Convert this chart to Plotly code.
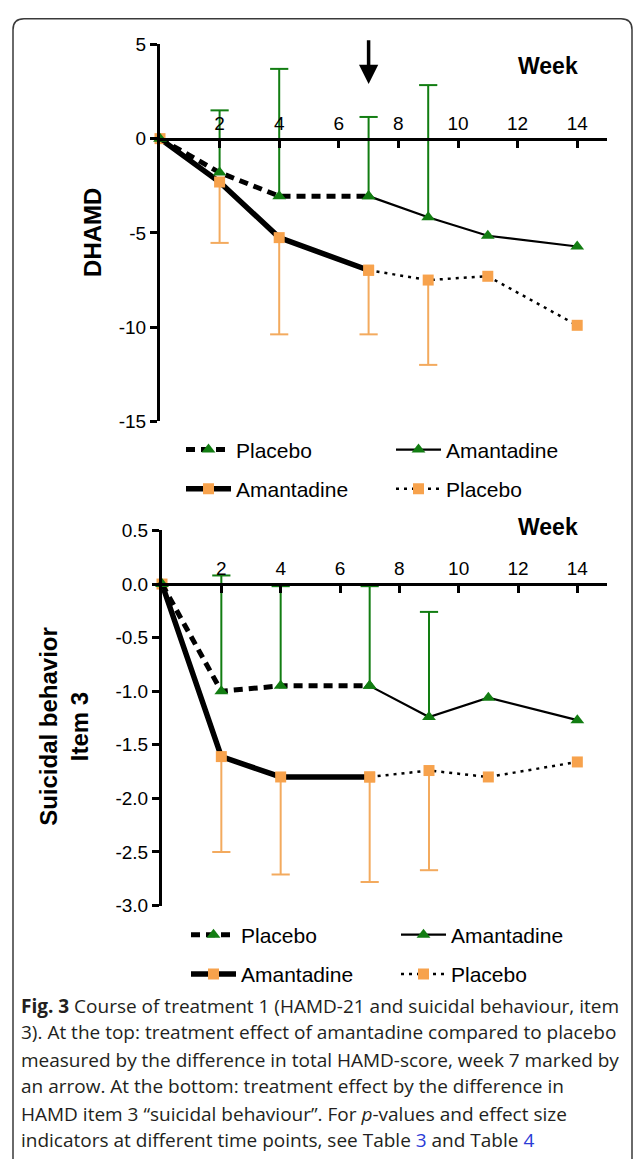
import plotly.graph_objects as go

W, H = 634, 1166

# ---------------- data ----------------
weeks = [0, 2, 4, 7, 9, 11, 14]
marked_week = 7          # week marked by the arrow in the top panel
split_week = 7           # crossover point (line style changes here)

# Top panel: DHAMD
top_green = [0, -1.8, -3.05, -3.05, -4.17, -5.15, -5.72]
top_green_upper = [None, 1.5, 3.7, 1.15, 2.84, None, None]
top_orange = [0, -2.3, -5.25, -6.98, -7.5, -7.3, -9.9]
top_orange_lower = [None, -5.53, -10.38, -10.38, -12.0, None, None]

# Bottom panel: Suicidal behavior item 3
bot_green = [0, -1.0, -0.95, -0.95, -1.24, -1.06, -1.27]
bot_green_upper = [None, 0.08, -0.02, -0.02, -0.26, None, None]
bot_orange = [0, -1.61, -1.8, -1.8, -1.74, -1.8, -1.66]
bot_orange_lower = [None, -2.5, -2.71, -2.78, -2.67, None, None]

x_tickvals = [2, 4, 6, 8, 10, 12, 14]
x_ticktext = ["2", "4", "6", "8", "10", "12", "14"]
top_y_tickvals = [5, 0, -5, -10, -15]
top_y_ticktext = ["5", "0", "-5", "-10", "-15"]
bot_y_tickvals = [0.5, 0.0, -0.5, -1.0, -1.5, -2.0, -2.5, -3.0]
bot_y_ticktext = ["0.5", "0.0", "-0.5", "-1.0", "-1.5", "-2.0", "-2.5", "-3.0"]

legend_names = ["Placebo", "Amantadine", "Amantadine", "Placebo"]

caption_lines = [
    "<b>Fig. 3</b> Course of treatment 1 (HAMD-21 and suicidal behaviour, item",
    "3). At the top: treatment effect of amantadine compared to placebo",
    "measured by the difference in total HAMD-score, week 7 marked by",
    "an arrow. At the bottom: treatment effect by the difference in",
    "HAMD item 3 \u201csuicidal behaviour\u201d. For <i>p</i>-values and effect size",
    "indicators at different time points, see Table <span style='color:#2b3bd6'>3</span> and Table <span style='color:#2b3bd6'>4</span>",
]

# ---------------- style ----------------
GREEN = "#127d12"
ORANGE = "#f7a24c"
ORANGE_ERR = "#f3aa5e"
FONT = "Liberation Sans, Arial, sans-serif"
CAP_FONT = "Open Sans, Noto Sans, sans-serif"


def px(x):
    return x / W


def py(y):
    return 1 - y / H


fig = go.Figure()


def seg(xs, ys, first):
    idx = [i for i, w in enumerate(xs) if (w <= split_week if first else w >= split_week)]
    return [xs[i] for i in idx], [ys[i] for i in idx]


def whiskers(xs, ys, ends, color, xa, ya):
    wx, wy, cx, cy = [], [], [], []
    for x, y, e in zip(xs, ys, ends):
        if e is None:
            continue
        wx += [x, x, None]
        wy += [y, e, None]
        cx.append(x)
        cy.append(e)
    fig.add_trace(go.Scatter(x=wx, y=wy, mode="lines", line=dict(color=color, width=2),
                             xaxis=xa, yaxis=ya, showlegend=False, hoverinfo="skip", cliponaxis=False))
    fig.add_trace(go.Scatter(x=cx, y=cy, mode="markers",
                             marker=dict(symbol="line-ew", size=13, line=dict(color=color, width=2)),
                             xaxis=xa, yaxis=ya, showlegend=False, hoverinfo="skip", cliponaxis=False))


def panel(green, gup, orange, olow, xa, ya, lg1, lg2):
    whiskers(weeks, green, gup, GREEN, xa, ya)
    whiskers(weeks, orange, olow, ORANGE_ERR, xa, ya)
    x1, y1 = seg(weeks, orange, True)
    x2, y2 = seg(weeks, orange, False)
    gx1, gy1 = seg(weeks, green, True)
    gx2, gy2 = seg(weeks, green, False)
    sq = dict(symbol="square", size=11, color=ORANGE)
    tri = dict(symbol="triangle-up", size=12, color=GREEN)
    fig.add_trace(go.Scatter(x=x2, y=y2, mode="lines+markers", name=legend_names[3],
                             line=dict(color="black", width=2.5, dash="3px,5px"), marker=sq,
                             xaxis=xa, yaxis=ya, legend=lg2, legendrank=2, cliponaxis=False))
    fig.add_trace(go.Scatter(x=gx2, y=gy2, mode="lines+markers", name=legend_names[1],
                             line=dict(color="black", width=2.2), marker=tri,
                             xaxis=xa, yaxis=ya, legend=lg1, legendrank=2, cliponaxis=False))
    fig.add_trace(go.Scatter(x=x1, y=y1, mode="lines+markers", name=legend_names[2],
                             line=dict(color="black", width=5.5), marker=sq,
                             xaxis=xa, yaxis=ya, legend=lg2, legendrank=1, cliponaxis=False))
    fig.add_trace(go.Scatter(x=gx1, y=gy1, mode="lines+markers", name=legend_names[0],
                             line=dict(color="black", width=5, dash="9px,6px"), marker=tri,
                             xaxis=xa, yaxis=ya, legend=lg1, legendrank=1, cliponaxis=False))


panel(top_green, top_green_upper, top_orange, top_orange_lower, "x", "y", "legend", "legend2")
panel(bot_green, bot_green_upper, bot_orange, bot_orange_lower, "x2", "y2", "legend3", "legend4")

axis_common = dict(showgrid=False, zeroline=False, showline=True, linecolor="black", linewidth=3,
                   tickcolor="black", tickwidth=3, ticklen=7,
                   tickfont=dict(family=FONT, size=19, color="black"))

fig.update_layout(
    width=W, height=H, margin=dict(l=0, r=0, t=0, b=0),
    paper_bgcolor="white", plot_bgcolor="rgba(0,0,0,0)",
    font=dict(family=FONT, color="black"),
    xaxis=dict(domain=[px(160), px(607)], range=[0, 15], anchor="free", position=py(131),
               side="top", ticks="inside", tickvals=x_tickvals, ticktext=x_ticktext, **axis_common),
    yaxis=dict(domain=[py(419), py(35)], range=[-15, 5], anchor="x", ticks="outside",
               tickvals=top_y_tickvals, ticktext=top_y_ticktext, **axis_common),
    xaxis2=dict(domain=[px(162), px(607)], range=[0, 15], anchor="free", position=py(584.6),
                side="top", ticks="inside", tickvals=x_tickvals, ticktext=x_ticktext, **axis_common),
    yaxis2=dict(domain=[py(912), py(530)], range=[-3, 0.5], anchor="x2", ticks="outside",
                tickvals=bot_y_tickvals, ticktext=bot_y_ticktext, **axis_common),
    showlegend=True,
)

leg_common = dict(orientation="h", xanchor="left", yanchor="middle", bgcolor="rgba(0,0,0,0)",
                  font=dict(family=FONT, size=21, color="black"), entrywidth=150,
                  entrywidthmode="pixels", itemwidth=45, traceorder="normal", itemclick=False)
fig.update_layout(
    legend=dict(x=px(181), y=py(448), **leg_common),
    legend2=dict(x=px(181), y=py(488), **leg_common),
    legend3=dict(x=px(186), y=py(942), **leg_common),
    legend4=dict(x=px(186), y=py(982), **leg_common),
)

annotations = []
# arrow marking week 7
annotations.append(dict(xref="x", yref="y", axref="x", ayref="y", x=marked_week, y=2.9,
                        ax=marked_week, ay=5.3, text="", showarrow=True, arrowhead=2,
                        arrowsize=1.1, arrowwidth=3.5, arrowcolor="black"))
# Week labels
for yy in (57, 526):
    annotations.append(dict(xref="paper", yref="paper", x=px(548), y=py(yy), text="<b>Week</b>",
                            xanchor="center", yanchor="middle",
                            showarrow=False, font=dict(family=FONT, size=23, color="black")))
# y titles
annotations.append(dict(xref="paper", yref="paper", x=px(93), y=py(227), text="<b>DHAMD</b>",
                        xanchor="center", yanchor="middle",
                        textangle=-90, showarrow=False, font=dict(family=FONT, size=24, color="black")))
annotations.append(dict(xref="paper", yref="paper", x=px(64), y=py(730),
                        text="<b>Suicidal behavior<br>Item 3</b>", xanchor="center", yanchor="middle",
                        textangle=-90, showarrow=False, font=dict(family=FONT, size=24, color="black")))
# caption
cap_y = [1014, 1041, 1069, 1096, 1124, 1151]
for t, yy in zip(caption_lines, cap_y):
    annotations.append(dict(xref="paper", yref="paper", x=px(19), y=py(yy), xanchor="left",
                            yanchor="middle", text=t, showarrow=False, align="left",
                            font=dict(family=CAP_FONT, size=19, color="#231f20")))
fig.update_layout(annotations=annotations)

# frame with rounded top corners
r = 11
L, T, R, B = 13, 9, 632, 1170
path = (f"M {px(L)} {py(B)} L {px(L)} {py(T + r)} Q {px(L)} {py(T)} {px(L + r)} {py(T)} "
        f"L {px(R - r)} {py(T)} Q {px(R)} {py(T)} {px(R)} {py(T + r)} L {px(R)} {py(B)}")
fig.add_shape(type="path", xref="paper", yref="paper", path=path,
              line=dict(color="#3a3a3a", width=1.5), layer="below")

fig.write_html("out.html")
